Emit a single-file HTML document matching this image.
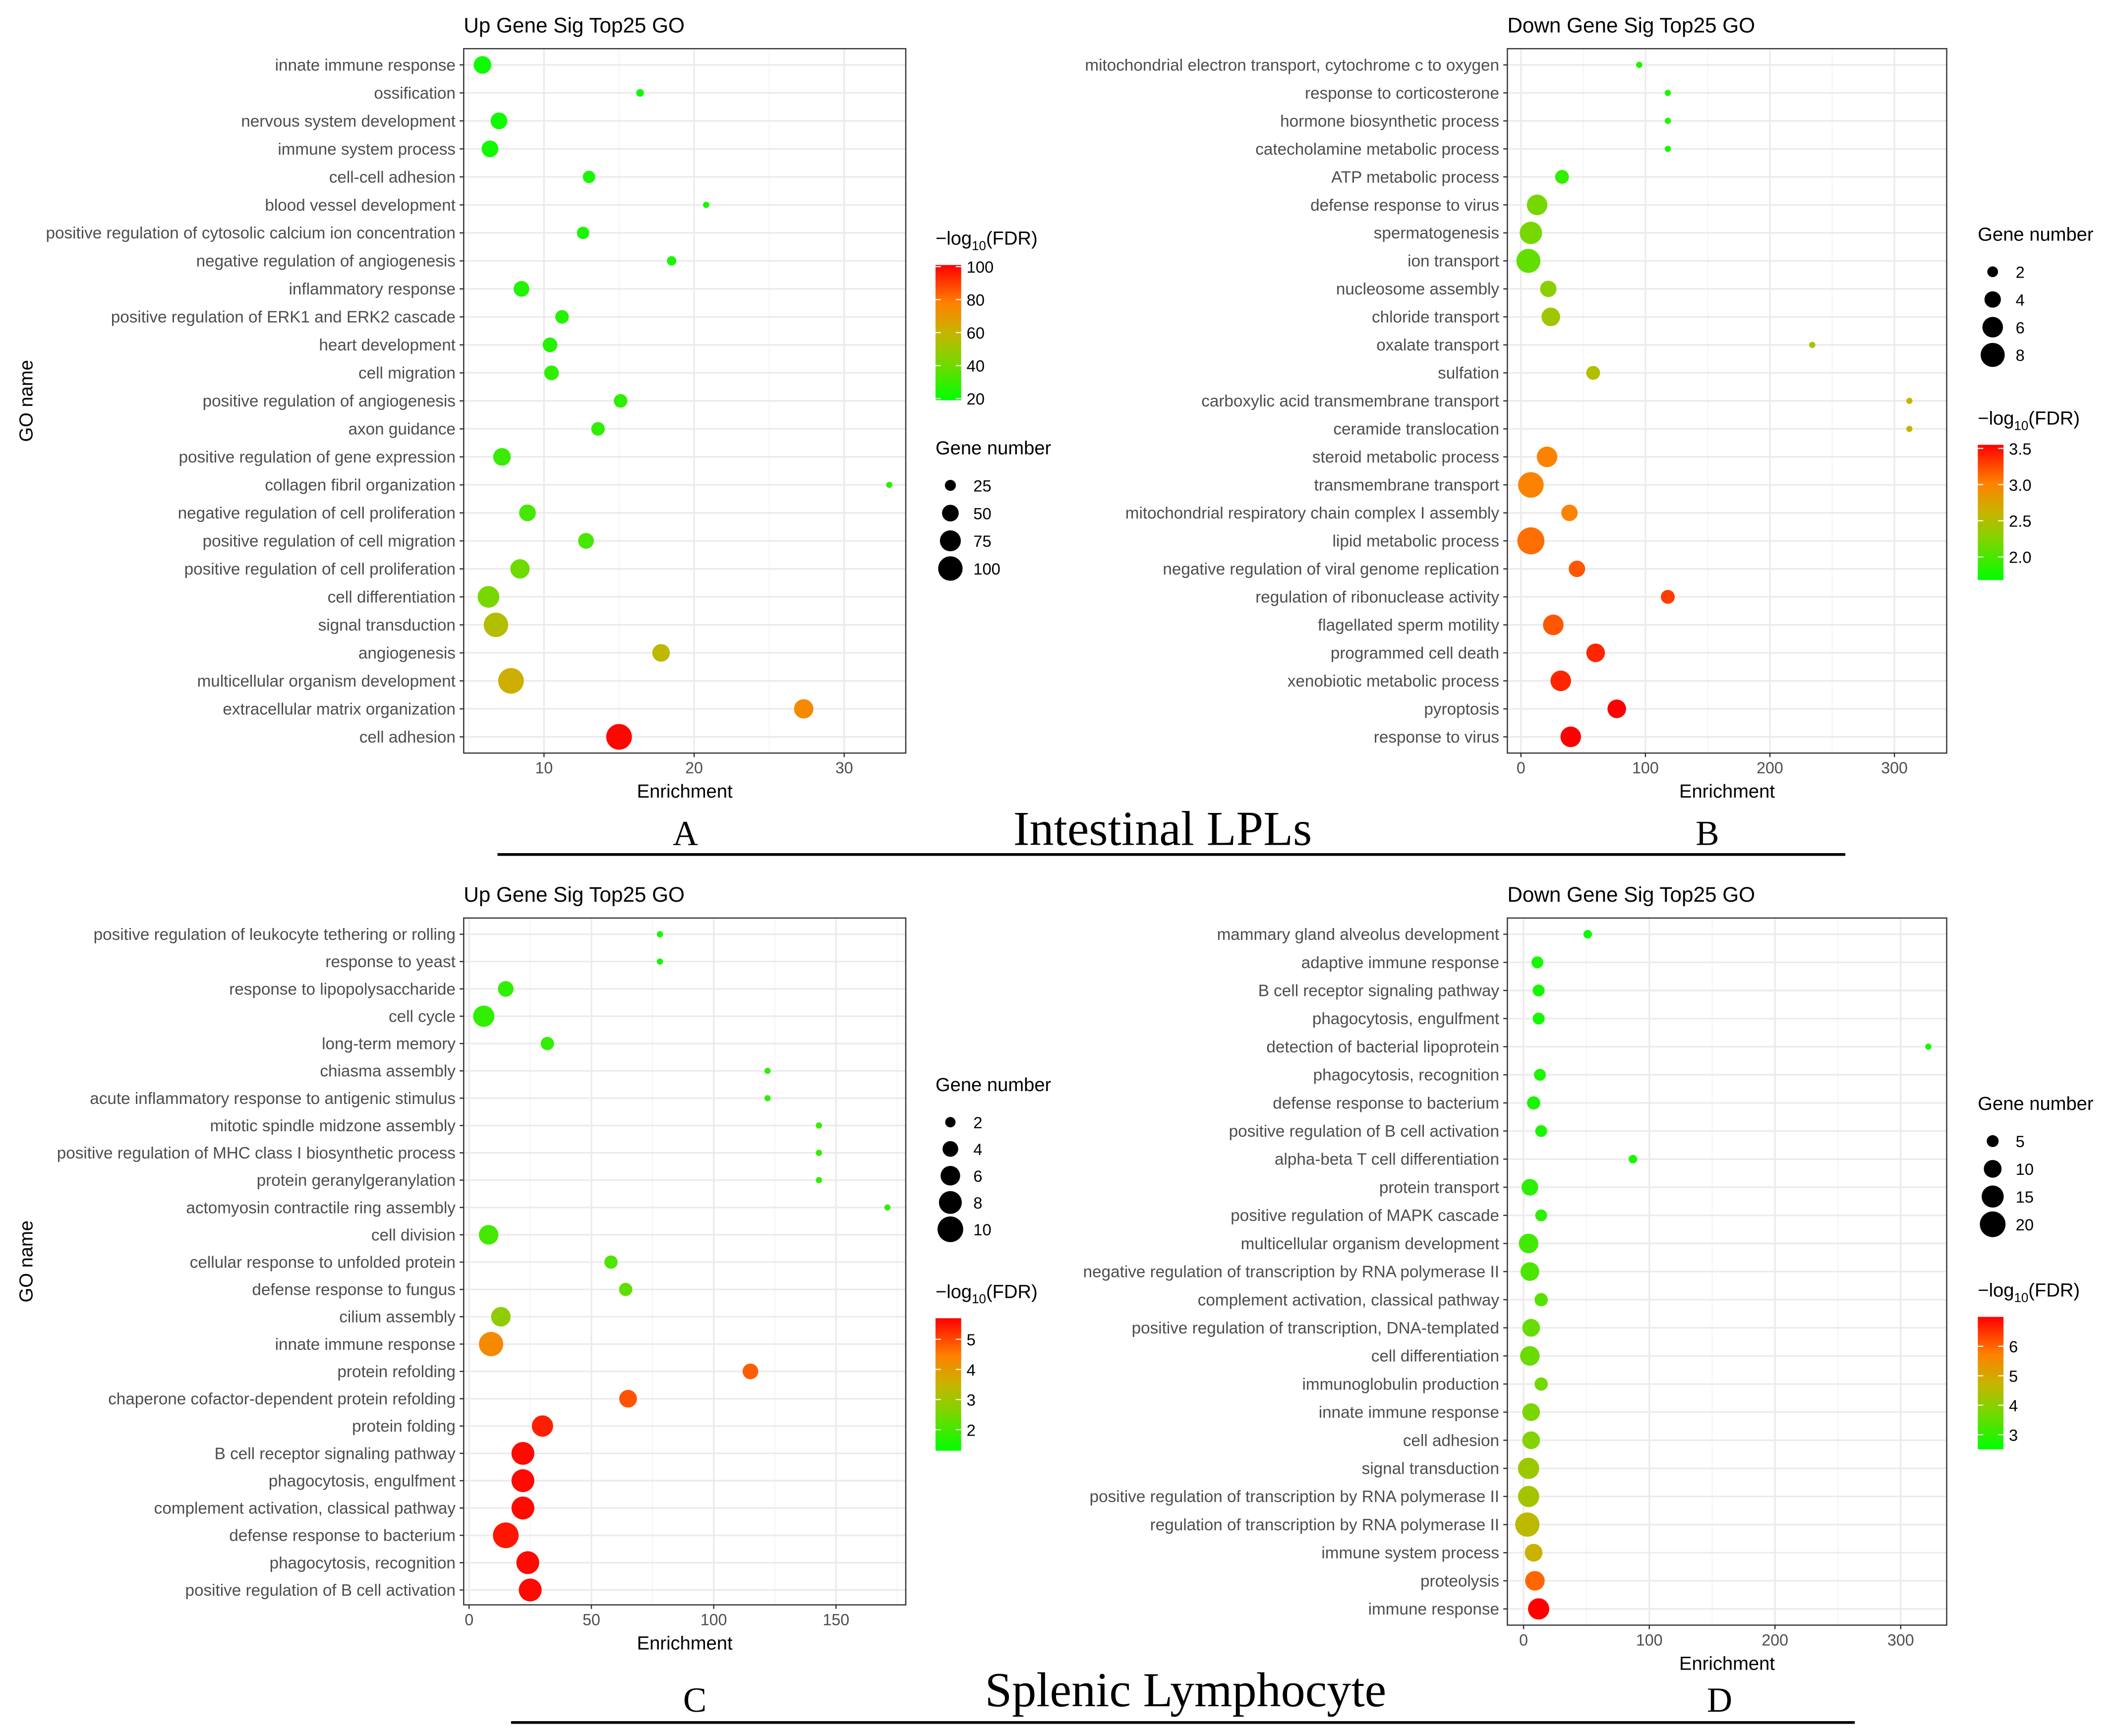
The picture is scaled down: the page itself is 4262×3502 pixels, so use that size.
<!DOCTYPE html>
<html><head><meta charset="utf-8"><style>
html,body{margin:0;padding:0;background:#fff}
svg{display:block}
text{font-family:"Liberation Sans",sans-serif}
</style></head><body>
<svg id="fig" xmlns="http://www.w3.org/2000/svg" width="4262" height="3502" viewBox="0 0 1563 1284" preserveAspectRatio="none">
<defs>
<linearGradient id="cg" x1="0" y1="1" x2="0" y2="0">
<stop offset="0" stop-color="#00ff00"/><stop offset="0.3" stop-color="#80d400"/><stop offset="0.5" stop-color="#c8b400"/><stop offset="0.72" stop-color="#ff8000"/><stop offset="1" stop-color="#ff0000"/>
</linearGradient>
</defs>
<g id="root"></g>
<text x="507" y="625" font-size="26" text-anchor="middle" style="font-family:'Liberation Serif',serif">A</text>
<text x="860" y="625" font-size="36" text-anchor="middle" style="font-family:'Liberation Serif',serif">Intestinal LPLs</text>
<text x="1263" y="625" font-size="26" text-anchor="middle" style="font-family:'Liberation Serif',serif">B</text>
<line x1="368" y1="632" x2="1365" y2="632" stroke="#000" stroke-width="2"/>
<text x="514" y="1266" font-size="26" text-anchor="middle" style="font-family:'Liberation Serif',serif">C</text>
<text x="877" y="1262" font-size="36" text-anchor="middle" style="font-family:'Liberation Serif',serif">Splenic Lymphocyte</text>
<text x="1272" y="1266" font-size="26" text-anchor="middle" style="font-family:'Liberation Serif',serif">D</text>
<line x1="378" y1="1274" x2="1372" y2="1274" stroke="#000" stroke-width="2"/>
</svg>
<script>
// ---- Panel A data ----
const termsA=["innate immune response","ossification","nervous system development","immune system process","cell-cell adhesion","blood vessel development","positive regulation of cytosolic calcium ion concentration","negative regulation of angiogenesis","inflammatory response","positive regulation of ERK1 and ERK2 cascade","heart development","cell migration","positive regulation of angiogenesis","axon guidance","positive regulation of gene expression","collagen fibril organization","negative regulation of cell proliferation","positive regulation of cell migration","positive regulation of cell proliferation","cell differentiation","signal transduction","angiogenesis","multicellular organism development","extracellular matrix organization","cell adhesion"];
const enrichA=[5.9,16.4,7.0,6.4,13.0,20.8,12.6,18.5,8.5,11.2,10.4,10.5,15.1,13.6,7.2,33.0,8.9,12.8,8.4,6.3,6.8,17.8,7.8,27.3,15.0];
const genesA=[55,15,50,50,30,12,30,20,45,35,40,40,35,35,55,12,50,45,65,80,100,55,110,65,110];
const fdrA=[22,21,22,22,24,22,24,24,26,26,26,28,28,28,30,28,32,32,40,42,55,58,62,75,100];
const xTicksA=[10,20,30];
const sizeLegA=[25,50,75,100];
const colorLegA=[20,40,60,80,100];
// ---- Panel B data ----
const termsB=["mitochondrial electron transport, cytochrome c to oxygen","response to corticosterone","hormone biosynthetic process","catecholamine metabolic process","ATP metabolic process","defense response to virus","spermatogenesis","ion transport","nucleosome assembly","chloride transport","oxalate transport","sulfation","carboxylic acid transmembrane transport","ceramide translocation","steroid metabolic process","transmembrane transport","mitochondrial respiratory chain complex I assembly","lipid metabolic process","negative regulation of viral genome replication","regulation of ribonuclease activity","flagellated sperm motility","programmed cell death","xenobiotic metabolic process","pyroptosis","response to virus"];
const enrichB=[95,118,118,118,33,13,8,6,22,24,234,58,312,312,21,8,39,8,45,118,26,60,32,77,40];
const genesB=[1,1,1,1,3,6,7,8,4,5,1,3,1,1,6,9,4,10,4,3,6,5,6,5,6];
const fdrB=[1.8,1.8,1.8,1.8,1.9,2.2,2.2,2.1,2.3,2.4,2.4,2.5,2.6,2.6,3.0,3.0,3.0,3.1,3.2,3.3,3.2,3.4,3.4,3.6,3.6];
const xTicksB=[0,100,200,300];
const sizeLegB=[2,4,6,8];
const colorLegB=[2.0,2.5,3.0,3.5];
// ---- Panel C data ----
const termsC=["positive regulation of leukocyte tethering or rolling","response to yeast","response to lipopolysaccharide","cell cycle","long-term memory","chiasma assembly","acute inflammatory response to antigenic stimulus","mitotic spindle midzone assembly","positive regulation of MHC class I biosynthetic process","protein geranylgeranylation","actomyosin contractile ring assembly","cell division","cellular response to unfolded protein","defense response to fungus","cilium assembly","innate immune response","protein refolding","chaperone cofactor-dependent protein refolding","protein folding","B cell receptor signaling pathway","phagocytosis, engulfment","complement activation, classical pathway","defense response to bacterium","phagocytosis, recognition","positive regulation of B cell activation"];
const enrichC=[78,78,15,6,32,122,122,143,143,143,171,8,58,64,13,9,115,65,30,22,22,22,15,24,25];
const genesC=[1,1,4,7,3,1,1,1,1,1,1,6,3,3,6,9,4,5,7,8,8,8,10,8,8];
const fdrC=[1.5,1.5,1.8,1.8,1.8,1.8,1.8,1.8,1.8,1.8,1.9,2.0,2.1,2.3,2.8,4.3,4.8,4.9,5.4,5.6,5.6,5.6,5.5,5.6,5.6];
const xTicksC=[0,50,100,150];
const sizeLegC=[2,4,6,8,10];
const colorLegC=[2,3,4,5];
// ---- Panel D data ----
const termsD=["mammary gland alveolus development","adaptive immune response","B cell receptor signaling pathway","phagocytosis, engulfment","detection of bacterial lipoprotein","phagocytosis, recognition","defense response to bacterium","positive regulation of B cell activation","alpha-beta T cell differentiation","protein transport","positive regulation of MAPK cascade","multicellular organism development","negative regulation of transcription by RNA polymerase II","complement activation, classical pathway","positive regulation of transcription, DNA-templated","cell differentiation","immunoglobulin production","innate immune response","cell adhesion","signal transduction","positive regulation of transcription by RNA polymerase II","regulation of transcription by RNA polymerase II","immune system process","proteolysis","immune response"];
const enrichD=[51,11,12,12,322,13,8,14,87,5,14,4,5,14,6,5,14,6,6,4,4,3,8,9,12];
const genesD=[3,5,5,5,2,5,6,5,3,9,5,12,11,6,10,12,6,10,10,14,14,18,10,12,14];
const fdrD=[2.6,2.7,2.7,2.7,2.6,2.8,2.8,2.8,2.8,3.0,3.0,3.2,3.3,3.4,3.6,3.6,3.7,3.8,3.9,4.2,4.3,4.6,4.8,6.0,7.0];
const xTicksD=[0,100,200,300];
const sizeLegD=[5,10,15,20];
const colorLegD=[3,4,5,6];

const NS="http://www.w3.org/2000/svg";
const root=document.getElementById('root');
function mk(tag,attrs,parent,txt){const e=document.createElementNS(NS,tag);for(const k in attrs)e.setAttribute(k,attrs[k]);if(txt!==undefined)e.textContent=txt;(parent||root).appendChild(e);return e;}
const stops=[[0,[0,255,0]],[0.3,[128,212,0]],[0.5,[200,180,0]],[0.72,[255,128,0]],[1,[255,0,0]]];
function colorAt(t){t=Math.max(0,Math.min(1,t));for(let i=1;i<stops.length;i++){if(t<=stops[i][0]){const a=stops[i-1],b=stops[i];const f=(t-a[0])/(b[0]-a[0]);const c=a[1].map((v,j)=>Math.round(v+(b[1][j]-v)*f));return `rgb(${c.join(',')})`;}}return 'rgb(255,0,0)';}

function panel(cfg){
  const g=mk('g',{});
  
  
  const {L,R,T,B,xmin,xmax,yFirst,yLast}=cfg;
  const sx=v=>L+(v-xmin)/(xmax-xmin)*(R-L);
  const n=cfg.terms.length;
  const sy=i=>yFirst+i*(yLast-yFirst)/(n-1);
  const gmin=Math.min(...cfg.genes,...cfg.sizeLeg),gmax=Math.max(...cfg.genes,...cfg.sizeLeg);
  const rmin=2.3,rmax=cfg.rmax;
  const rs=v=>Math.sqrt(rmin*rmin+(rmax*rmax-rmin*rmin)*(v-gmin)/(gmax-gmin));
  const cs=v=>colorAt((v-cfg.cmin)/(cfg.cmax-cfg.cmin));
  const title=mk('text',{x:L,y:T-12,'font-size':15.5,fill:'#000'},g,cfg.title);
  
  
  mk('rect',{x:L,y:T,width:R-L,height:B-T,fill:'#fff'},g);
  const step=cfg.xTicks[1]-cfg.xTicks[0];
  for(let v=cfg.xTicks[0]-step*2+step/2; v<=xmax; v+=step){ if(v>=xmin){const gl=mk('line',{x1:sx(v),x2:sx(v),y1:T,y2:B,stroke:'#f2f2f2','stroke-width':0.6},g);} }
  cfg.xTicks.forEach(v=>{const gl=mk('line',{x1:sx(v),x2:sx(v),y1:T,y2:B,stroke:'#ebebeb','stroke-width':1.2},g);});
  cfg.terms.forEach((t,i)=>{const gl=mk('line',{x1:L,x2:R,y1:sy(i),y2:sy(i),stroke:'#ebebeb','stroke-width':1.2},g);});
  const fr=mk('rect',{x:L,y:T,width:R-L,height:B-T,fill:'none',stroke:'#333','stroke-width':0.9},g);
  
  
  cfg.terms.forEach((t,i)=>{
    mk('line',{x1:L-3,x2:L,y1:sy(i),y2:sy(i),stroke:'#333','stroke-width':0.9},g);
    const lb=mk('text',{x:L-6,y:sy(i)+4.2,'font-size':12.2,fill:'#4d4d4d','text-anchor':'end'},g,t);
    
    
  });
  cfg.xTicks.forEach(v=>{
    mk('line',{x1:sx(v),x2:sx(v),y1:B,y2:B+3,stroke:'#333','stroke-width':0.9},g);
    const lb=mk('text',{x:sx(v),y:B+15,'font-size':11.8,fill:'#4d4d4d','text-anchor':'middle'},g,String(v));
    
    
  });
  const xt=mk('text',{x:(L+R)/2,y:B+33,'font-size':14,fill:'#000','text-anchor':'middle'},g,'Enrichment');
  
  
  if(cfg.id==='panel-a'||cfg.id==='panel-c'){
    const yt=mk('text',{x:0,y:0,'font-size':14,fill:'#000','text-anchor':'middle',transform:`translate(24,${(T+B)/2}) rotate(-90)`},g,'GO name');
    
    
  }
  cfg.terms.forEach((t,i)=>{
    const c=mk('circle',{cx:sx(cfg.enrich[i]),cy:sy(i),r:rs(cfg.genes[i]),fill:cs(cfg.fdr[i])},g);
    
    
  });
  const sl=cfg.sizeLegPos;
  const st=mk('text',{x:sl.x,y:sl.y,'font-size':14,fill:'#000'},g,'Gene number');
  
  
  cfg.sizeLeg.forEach((v,i)=>{
    const y=sl.y+23+i*sl.dy;
    const c=mk('circle',{cx:sl.x+11,cy:y,r:rs(v),fill:'#000'},g);
    
    
    mk('text',{x:sl.x+28,y:y+4.5,'font-size':12,fill:'#000'},g,String(v));
  });
  const cl=cfg.colLegPos;
  const ct=mk('text',{x:cl.x,y:cl.y,'font-size':14,fill:'#000'},g);
  
  
  ct.innerHTML='<tspan>\u2212log</tspan><tspan font-size="9.5" dy="4">10</tspan><tspan dy="-4">(FDR)</tspan>';
  const by0=cl.y+15,bh=cl.h;
  const bar=mk('rect',{x:cl.x,y:by0,width:19,height:bh,fill:'url(#cg)'},g);
  
  
  cfg.colorLeg.forEach(v=>{
    const y=by0+bh-(v-cfg.cmin)/(cfg.cmax-cfg.cmin)*bh;
    mk('line',{x1:cl.x,x2:cl.x+4,y1:y,y2:y,stroke:'#fff','stroke-width':0.8},g);
    mk('line',{x1:cl.x+15,x2:cl.x+19,y1:y,y2:y,stroke:'#fff','stroke-width':0.8},g);
    const lb=mk('text',{x:cl.x+23,y:y+4.5,'font-size':12,fill:'#000'},g,cfg.fmt(v));
    
    
  });
}
panel({id:'panel-a',title:'Up Gene Sig Top25 GO',terms:termsA,enrich:enrichA,genes:genesA,fdr:fdrA,xTicks:xTicksA,sizeLeg:sizeLegA,colorLeg:colorLegA,
 L:343,R:670,T:36,B:557,xmin:4.65,xmax:34.1,yFirst:48,yLast:545,rmax:9.5,cmin:19,cmax:101,
 sizeLegPos:{x:692,y:336,dy:20.5},colLegPos:{x:692,y:181,h:100},fmt:v=>String(v)});
panel({id:'panel-b',title:'Down Gene Sig Top25 GO',terms:termsB,enrich:enrichB,genes:genesB,fdr:fdrB,xTicks:xTicksB,sizeLeg:sizeLegB,colorLeg:colorLegB,
 L:1115,R:1440,T:36,B:557,xmin:-10.9,xmax:342,yFirst:48,yLast:545,rmax:10,cmin:1.68,cmax:3.55,
 sizeLegPos:{x:1463,y:178,dy:20.5},colLegPos:{x:1463,y:314,h:100},fmt:v=>v.toFixed(1)});
panel({id:'panel-c',title:'Up Gene Sig Top25 GO',terms:termsC,enrich:enrichC,genes:genesC,fdr:fdrC,xTicks:xTicksC,sizeLeg:sizeLegC,colorLeg:colorLegC,
 L:343,R:670,T:679,B:1187,xmin:-2.2,xmax:178.5,yFirst:691,yLast:1176,rmax:9.5,cmin:1.3,cmax:5.7,
 sizeLegPos:{x:692,y:807,dy:19.8},colLegPos:{x:692,y:960,h:98},fmt:v=>String(v)});
panel({id:'panel-d',title:'Down Gene Sig Top25 GO',terms:termsD,enrich:enrichD,genes:genesD,fdr:fdrD,xTicks:xTicksD,sizeLeg:sizeLegD,colorLeg:colorLegD,
 L:1115,R:1440,T:679,B:1202,xmin:-12.9,xmax:336.6,yFirst:691,yLast:1190,rmax:9.5,cmin:2.5,cmax:7.0,
 sizeLegPos:{x:1463,y:821,dy:20.5},colLegPos:{x:1463,y:959,h:98},fmt:v=>String(v)});
</script>
</body></html>
